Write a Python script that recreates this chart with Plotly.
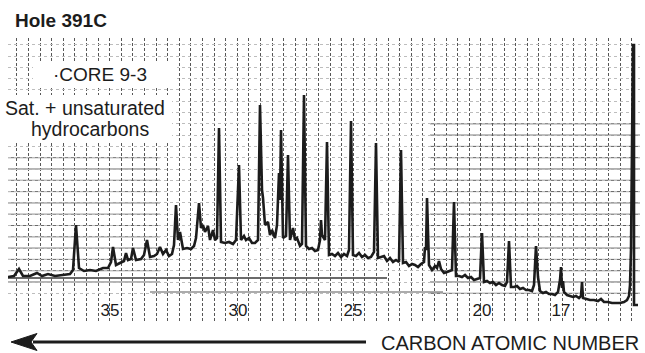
import plotly.graph_objects as go

# Chromatogram trace: retention (min, decreasing to the right) and detector response
retention = [63.2,62.6,62.1,61.7,61.0,60.3,59.8,59.2,58.5,57.8,57.0,56.7,56.4,56.1,55.6,55.0,54.4,53.7,53.2,52.9,
             52.7,52.4,52.0,51.6,51.4,51.2,50.9,50.7,50.4,49.9,49.6,49.3,49.0,48.6,48.3,48.0,47.7,47.4,47.1,46.8,
             46.6,46.4,46.2,46.0,45.7,45.3,44.9,44.6,44.4,44.1,43.9,43.7,43.5,43.2,43.0,42.7,42.5,42.3,42.1,41.9,
             41.5,41.1,40.7,40.4,40.1,39.9,39.6,39.4,39.1,38.8,38.5,38.2,38.0,37.8,37.7,37.5,37.2,37.0,36.8,36.5,
             36.3,36.1,36.0,35.9,35.7,35.4,35.2,35.0,34.7,34.5,34.3,34.0,33.8,33.6,33.4,33.1,32.8,32.5,32.2,32.0,
             31.9,31.8,31.5,31.3,31.1,30.8,30.5,30.2,29.9,29.6,29.3,29.1,28.9,28.7,28.4,28.1,27.8,27.5,27.2,26.9,
             26.6,26.4,26.2,25.9,25.6,25.3,25.0,24.7,24.4,24.1,23.9,23.7,23.4,23.1,22.8,22.5,22.2,21.9,21.6,21.5,
             21.4,21.3,21.1,20.8,20.5,20.3,20.1,19.9,19.6,19.3,19.0,18.8,18.6,18.4,18.1,17.8,17.5,17.2,16.9,16.6,
             16.3,16.0,15.8,15.6,15.3,15.0,14.7,14.4,14.1,13.8,13.5,13.3,13.1,12.9,12.6,12.3,12.0,11.7,11.4,11.1,
             10.8,10.6,10.4,10.2,10.0,9.7,9.4,9.1,8.8,8.5,8.2,8.0,7.9,7.8,7.7,7.6,7.3,7.0,6.7,6.4,
             6.1,5.9,5.8,5.7,5.4,5.0,4.6,4.2,3.9,3.6,3.2,2.8,2.4,2.0,1.6,1.3,1.1,1.0,0.9,0.8,
             0.7,0.6,0.6,0.2]
response = [45,46,53,46,46,49,46,48,46,47,48,52,97,54,51,52,51,54,54,60,
            75,57,59,61,69,62,63,74,62,63,67,82,65,66,68,75,68,72,66,68,
            77,117,82,90,73,74,73,76,84,119,94,97,90,96,82,92,82,84,194,80,
            79,80,78,82,157,82,86,82,84,79,79,82,217,132,124,97,100,87,92,84,
            97,149,122,192,84,86,167,82,94,82,84,76,78,227,76,73,74,71,72,82,
            102,87,82,180,67,68,66,69,65,68,66,72,201,67,66,69,65,67,64,65,
            70,179,64,65,66,61,64,60,62,60,172,59,60,56,58,57,55,58,60,75,
            72,124,57,52,56,54,61,53,49,50,51,52,120,46,46,45,47,44,45,42,
            43,44,89,40,41,39,40,37,39,37,36,40,81,35,35,36,33,34,32,32,
            31,37,76,45,31,29,30,28,28,27,30,42,55,34,41,30,27,26,25,26,
            24,26,40,24,23,22,22,21,23,20,20,19,19,19,20,22,26,37,72,172,
            277,277,17,17]

# Carbon-number labels and their retention positions
carbon_labels = ["35", "30", "25", "20", "17"]
carbon_positions = [53.0, 40.2, 28.7, 15.8, 7.9]

if len(retention) != len(response):
    raise ValueError(f"length mismatch {len(retention)} vs {len(response)}")

FONT = "Liberation Sans, Arial, Helvetica, sans-serif"
INK = "#1c1c1c"

fig = go.Figure()
fig.add_trace(go.Scatter(
    x=retention, y=response, mode="lines",
    line=dict(color=INK, width=2.6), hoverinfo="skip", showlegend=False,
))

X_RANGE = [63.2, 0.0]
Y_RANGE = [0, 284]

# chart-paper horizontal segments (styling)
shapes = []
gy0, gdy = 6.1, 11.3
levels = [gy0 + k * gdy for k in range(26)]
for lv in levels:
    if 20 <= lv <= 200:
        shapes.append(dict(type="line", xref="x", yref="y", x0=21.0, x1=0.0, y0=lv, y1=lv,
                           line=dict(color="#5e5e5e", width=1), layer="below"))
    if 35 <= lv <= 175:
        shapes.append(dict(type="line", xref="x", yref="y", x0=63.2, x1=48.0, y0=lv, y1=lv,
                           line=dict(color="#6a6a6a", width=1), layer="below"))
shapes.append(dict(type="line", xref="x", yref="y", x0=63.2, x1=25.3, y0=44, y1=44,
                   line=dict(color="#3a3a3a", width=1.3), layer="below"))
shapes.append(dict(type="line", xref="x", yref="y", x0=49.0, x1=19.7, y0=30, y1=30,
                   line=dict(color="#5a5a5a", width=1.2), layer="below"))

# white label boxes over the chart paper
def px(xp):
    return (xp - 8) / 632

def py(yp):
    return (322 - yp) / 284

shapes.append(dict(type="rect", xref="paper", yref="paper",
                   x0=px(33), x1=px(177), y0=py(87), y1=py(62),
                   fillcolor="white", line=dict(width=0), layer="above"))
shapes.append(dict(type="rect", xref="paper", yref="paper",
                   x0=-0.02, x1=px(172), y0=py(143), y1=py(95),
                   fillcolor="white", line=dict(width=0), layer="above"))

# arrow pointing to increasing carbon number
shapes.append(dict(type="line", xref="paper", yref="paper", x0=px(33), x1=px(366), y0=py(342), y1=py(342),
                   line=dict(color=INK, width=3.2)))
shapes.append(dict(type="path", xref="paper", yref="paper",
                   path=f"M {px(11)} {py(342)} L {px(37)} {py(333.5)} L {px(31)} {py(342)} L {px(37)} {py(350.5)} Z",
                   fillcolor=INK, line=dict(color=INK, width=1)))

annotations = [
    dict(text="<b>Hole 391C</b>", xref="paper", yref="paper", x=px(13), y=py(20.5),
         xanchor="left", yanchor="middle", showarrow=False, font=dict(family=FONT, size=19, color=INK)),
    dict(text="·CORE 9-3", xref="paper", yref="paper", x=px(100), y=py(74),
         xanchor="center", yanchor="middle", showarrow=False, font=dict(family=FONT, size=19, color=INK)),
    dict(text="Sat. + unsaturated", xref="paper", yref="paper", x=px(85), y=py(108),
         xanchor="center", yanchor="middle", showarrow=False, font=dict(family=FONT, size=19.5, color=INK)),
    dict(text="hydrocarbons", xref="paper", yref="paper", x=px(89.5), y=py(129),
         xanchor="center", yanchor="middle", showarrow=False, font=dict(family=FONT, size=19.5, color=INK)),
    dict(text="CARBON ATOMIC NUMBER", xref="paper", yref="paper", x=px(641), y=py(343),
         xanchor="right", yanchor="middle", showarrow=False, font=dict(family=FONT, size=20, color=INK)),
]

fig.update_layout(
    width=645, height=353, autosize=False,
    margin=dict(l=8, r=5, t=38, b=31, pad=0),
    paper_bgcolor="white", plot_bgcolor="white",
    font=dict(family=FONT, color=INK),
    shapes=shapes, annotations=annotations,
    xaxis=dict(
        range=X_RANGE, tickmode="array", tickvals=carbon_positions, ticktext=carbon_labels,
        ticks="", ticklabelposition="inside", tickfont=dict(family=FONT, size=17, color=INK),
        showgrid=False, zeroline=False, showline=False, fixedrange=True,
        minor=dict(tickmode="linear", tick0=2.0, dtick=1.16, showgrid=True,
                   gridcolor="#575757", gridwidth=1, griddash="3px,2px", ticks=""),
    ),
    yaxis=dict(
        range=Y_RANGE, showticklabels=False, ticks="", zeroline=False, showline=False, fixedrange=True,
        tickmode="linear", tick0=6.1, dtick=11.3, showgrid=True,
        gridcolor="#bdbdbd", gridwidth=1, griddash="dot",
    ),
)

fig.write_html(
    "out.html",
    config={"displayModeBar": False, "staticPlot": True},
    post_script="document.body.style.margin='0';document.body.style.overflow='hidden';",
)
